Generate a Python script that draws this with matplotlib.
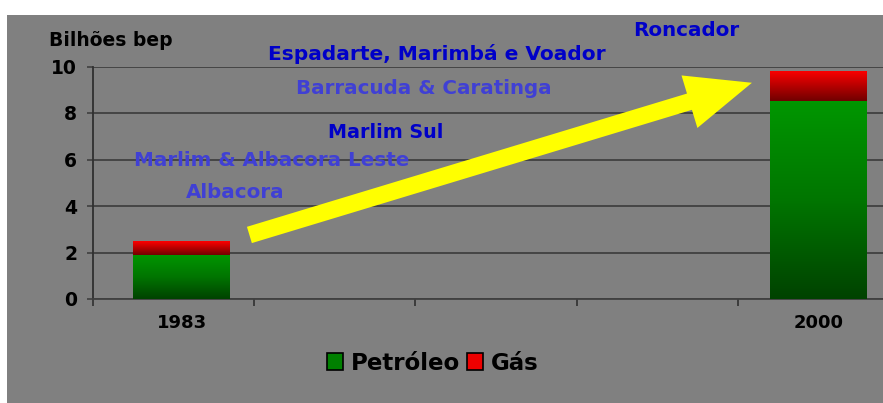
import matplotlib
matplotlib.use("Agg")
import matplotlib.pyplot as plt
import numpy as np
from matplotlib.colors import LinearSegmentedColormap
from matplotlib.patches import Patch, Rectangle

# ---- data ----
categories = ["1983", "2000"]
petroleo = [1.9, 8.5]
gas = [0.6, 1.3]
yticks = [0, 2, 4, 6, 8, 10]
ylabel = "Bilhões bep"
legend_labels = ["Petróleo", "Gás"]
field_labels = ["Roncador", "Espadarte, Marimbá e Voador", "Barracuda & Caratinga",
                "Marlim Sul", "Marlim & Albacora Leste", "Albacora"]

W, H = 883, 403
DPI = 100
plt.rcParams['font.family'] = ['DejaVu Sans']
plt.rcParams['font.weight'] = 'bold'

fig = plt.figure(figsize=(W / DPI, H / DPI), dpi=DPI, facecolor='white')

def px(x, y):
    return x / W, 1 - y / H

# gray panel
fig.patches.append(Rectangle(px(7, 403), (W - 7) / W, (403 - 15) / H,
                             transform=fig.transFigure, facecolor='#808080',
                             edgecolor='none', zorder=-10))

left, right, top, bottom = 93, 883, 66.5, 299
ax = fig.add_axes([left / W, 1 - bottom / H, (right - left) / W, (bottom - top) / H])
ax.set_facecolor('none')
ax.set_zorder(1)

xpos = [0.55, 4.5]
width = 0.6
b1 = ax.bar(xpos, petroleo, width, color='none', edgecolor='none', zorder=3)
b2 = ax.bar(xpos, gas, width, bottom=petroleo, color='none', edgecolor='none', zorder=3)

green = LinearSegmentedColormap.from_list('g', [(0, 0.26, 0), (0, 0.46, 0), (0, 0.59, 0)])
red = LinearSegmentedColormap.from_list('r', [(0.44, 0, 0), (1, 0, 0)])
grad = np.linspace(0, 1, 256).reshape(-1, 1)
for bars, cmap in ((b1, green), (b2, red)):
    for rect in bars:
        x0, y0, w, h = rect.get_x(), rect.get_y(), rect.get_width(), rect.get_height()
        im = ax.imshow(grad, extent=[x0, x0 + w, y0, y0 + h], origin='lower',
                       aspect='auto', cmap=cmap, zorder=3, interpolation='bilinear')
        im.set_clip_path(rect)

ax.set_xlim(0, 4.9)
ax.set_ylim(0, 10)
ax.set_yticks(yticks)
ax.set_yticklabels([str(t) for t in yticks], fontsize=13.5, fontweight='bold')
ax.yaxis.grid(True, color='#404040', lw=1.3, zorder=1)
ax.set_axisbelow(True)

ax.set_xticks(xpos)
ax.set_xticklabels(categories, fontsize=13, fontweight='bold')
ax.set_xticks([0, 1, 2, 3, 4], minor=True)
ax.tick_params(axis='x', which='major', length=0, pad=10.5)
ax.tick_params(axis='x', which='minor', length=5, width=1.2, color='#303030', direction='out')
ax.tick_params(axis='y', length=4.3, width=1.2, color='#404040', pad=7)

for s in ('top', 'right'):
    ax.spines[s].set_visible(False)
ax.spines['left'].set_color('#303030')
ax.spines['left'].set_linewidth(1.3)
ax.spines['bottom'].set_color('#404040')
ax.spines['bottom'].set_linewidth(1.3)

# arrow
ax.annotate("", xy=(4.087, 9.30), xytext=(0.97, 2.755),
            arrowprops=dict(arrowstyle='simple,head_length=0.94,head_width=0.79,tail_width=0.245',
                            mutation_scale=50, facecolor='#ffff00', edgecolor='none',
                            shrinkA=0, shrinkB=0), zorder=5)

# y label
fig.text(*px(111, 41), ylabel, ha='center', va='center', fontsize=13.5,
         fontweight='bold', color='black')

dark_blue = '#0000c8'
light_blue = '#4040d4'
label_pos = [(686, 31, dark_blue, 14.3), (437, 54, dark_blue, 14.5), (424, 88, light_blue, 14.3),
             (386, 133, dark_blue, 13.8), (272, 161, light_blue, 14.3), (235, 193, light_blue, 14.3)]
for txt, (x, y, c, fs) in zip(field_labels, label_pos):
    fig.text(*px(x, y), txt, ha='center', va='center', fontsize=fs, fontweight='bold', color=c)

handles = [Patch(facecolor='#008000', edgecolor='black', lw=1.2),
           Patch(facecolor='#ee0000', edgecolor='black', lw=1.2)]
fig.legend(handles, legend_labels, loc='center', bbox_to_anchor=px(433, 363), ncol=2,
           frameon=False, prop=dict(size=16.5, weight='bold'), handlelength=0.7,
           handleheight=0.7, handletextpad=0.35, columnspacing=0.3, borderpad=0)

fig.savefig('out.png', dpi=DPI, facecolor='white')
